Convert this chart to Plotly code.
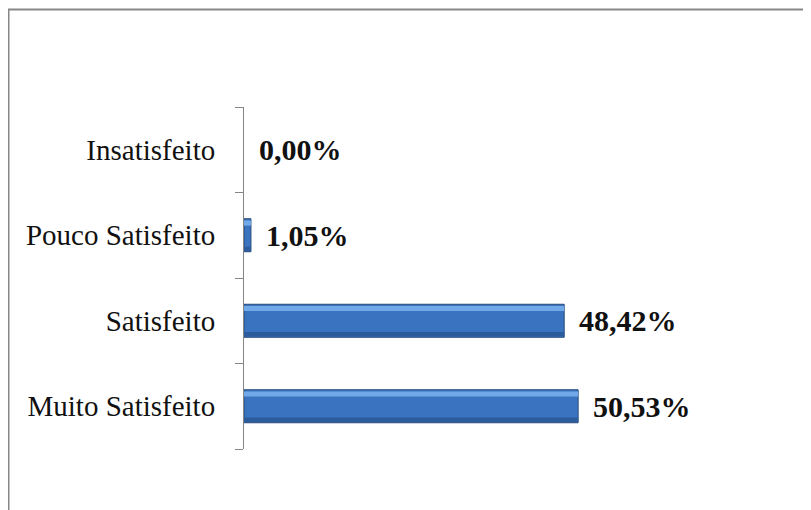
import plotly.graph_objects as go

categories = ["Muito Satisfeito", "Satisfeito", "Pouco Satisfeito", "Insatisfeito"]
values = [50.53, 48.42, 1.05, 0.00]
value_labels = ["50,53%", "48,42%", "1,05%", "0,00%"]

# page has an 8px body margin, so the figure is drawn at (8, 8)
W, H = 803, 502
L, R, T, B = 236, 38, 99, 61
pw, ph = W - L - R, H - T - B
bw = 0.386

def px_to_paper_x(p):
    return (p - L) / pw

def px_to_paper_y(p):
    return (H - B - p) / ph

line_widths = [1 if v > 0 else 0 for v in values]

fig = go.Figure()
# main bar body
fig.add_trace(go.Bar(
    y=categories, x=values, orientation="h",
    width=bw, offset=-bw / 2,
    marker=dict(color="#3a74c0", line=dict(color="#24497a", width=line_widths)),
    hoverinfo="skip", showlegend=False,
))
# light top bevel
fig.add_trace(go.Bar(
    y=categories, x=values, orientation="h",
    width=0.06, offset=bw / 2 - 0.08,
    marker=dict(color="#71a9e8", line=dict(width=0)),
    hoverinfo="skip", showlegend=False,
))
# dark bottom bevel
fig.add_trace(go.Bar(
    y=categories, x=values, orientation="h",
    width=0.05, offset=-bw / 2 + 0.01,
    marker=dict(color="#2c5c9c", line=dict(width=0)),
    hoverinfo="skip", showlegend=False,
))

for c, v, t in zip(categories, values, value_labels):
    fig.add_annotation(
        x=v, y=c, text="<b>" + t + "</b>", showarrow=False, xanchor="left", xshift=13,
        font=dict(family="Liberation Serif", size=30, color="#111111"),
    )

fig.add_shape(
    type="rect", xref="paper", yref="paper",
    x0=px_to_paper_x(0.5), x1=px_to_paper_x(830),
    y0=px_to_paper_y(530), y1=px_to_paper_y(1.5),
    line=dict(color="#878787", width=2), fillcolor="rgba(0,0,0,0)", layer="below",
)

fig.update_layout(
    width=W, height=H,
    margin=dict(l=L, r=R, t=T, b=B),
    paper_bgcolor="white", plot_bgcolor="white",
    barmode="overlay",
    font=dict(family="Liberation Serif", color="#111111"),
    xaxis=dict(range=[0, 80], visible=False, showgrid=False, zeroline=False, fixedrange=True),
    yaxis=dict(
        type="category", categoryorder="array", categoryarray=categories,
        showline=True, linecolor="#868686", linewidth=1,
        ticks="outside", ticklen=8, tickcolor="#868686", tickwidth=1,
        tickson="boundaries", showgrid=False, zeroline=False,
        tickfont=dict(family="Liberation Serif", size=29, color="#111111"),
        ticklabelstandoff=22,
    ),
)

fig.write_html("out.html")
